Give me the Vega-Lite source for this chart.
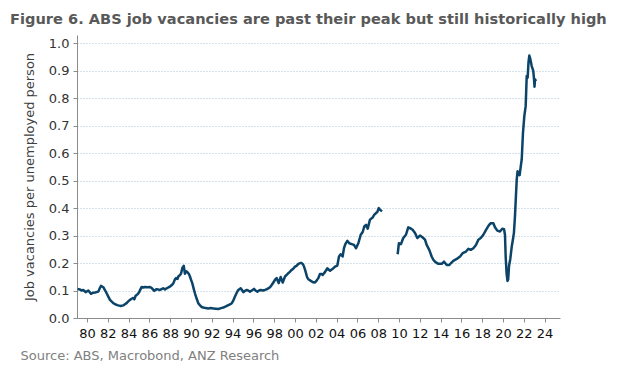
{
  "$schema": "https://vega.github.io/schema/vega-lite/v6.json",
  "width": 483,
  "height": 283,
  "autosize": "none",
  "padding": {"left": 77, "top": 35, "right": 81, "bottom": 58},
  "background": "white",
  "title": {
    "text": "Figure 6. ABS job vacancies are past their peak but still historically high",
    "anchor": "start",
    "frame": "group",
    "dx": -67,
    "offset": 8,
    "fontSize": 14.6,
    "font": "DejaVu Sans",
    "fontWeight": "bold",
    "color": "#595959"
  },
  "config": {
    "view": {"stroke": null},
    "font": "DejaVu Sans"
  },
  "data": {
    "values": [
      {"t":1979.1,"v":0.106,"s":1},{"t":1979.3,"v":0.104,"s":1},{"t":1979.5,"v":0.1,"s":1},{"t":1979.64,"v":0.102,"s":1},{"t":1979.87,"v":0.094,"s":1},
      {"t":1980.13,"v":0.1,"s":1},{"t":1980.38,"v":0.088,"s":1},{"t":1980.6,"v":0.092,"s":1},{"t":1980.77,"v":0.093,"s":1},{"t":1981.09,"v":0.096,"s":1},
      {"t":1981.25,"v":0.11,"s":1},{"t":1981.35,"v":0.117,"s":1},{"t":1981.57,"v":0.112,"s":1},{"t":1981.75,"v":0.1,"s":1},{"t":1981.89,"v":0.09,"s":1},
      {"t":1982.05,"v":0.078,"s":1},{"t":1982.21,"v":0.066,"s":1},{"t":1982.53,"v":0.054,"s":1},{"t":1982.75,"v":0.049,"s":1},{"t":1983.0,"v":0.046,"s":1},
      {"t":1983.25,"v":0.044,"s":1},{"t":1983.49,"v":0.046,"s":1},{"t":1983.65,"v":0.05,"s":1},{"t":1983.81,"v":0.054,"s":1},{"t":1984.0,"v":0.062,"s":1},
      {"t":1984.13,"v":0.066,"s":1},{"t":1984.3,"v":0.07,"s":1},{"t":1984.45,"v":0.073,"s":1},{"t":1984.55,"v":0.068,"s":1},{"t":1984.68,"v":0.081,"s":1},
      {"t":1984.85,"v":0.086,"s":1},{"t":1985.0,"v":0.093,"s":1},{"t":1985.15,"v":0.105,"s":1},{"t":1985.26,"v":0.113,"s":1},{"t":1985.4,"v":0.111,"s":1},
      {"t":1985.58,"v":0.113,"s":1},{"t":1985.8,"v":0.112,"s":1},{"t":1986.06,"v":0.113,"s":1},{"t":1986.25,"v":0.108,"s":1},{"t":1986.47,"v":0.099,"s":1},
      {"t":1986.7,"v":0.105,"s":1},{"t":1987.02,"v":0.102,"s":1},{"t":1987.2,"v":0.106,"s":1},{"t":1987.34,"v":0.108,"s":1},{"t":1987.5,"v":0.104,"s":1},
      {"t":1987.66,"v":0.108,"s":1},{"t":1987.85,"v":0.112,"s":1},{"t":1987.98,"v":0.114,"s":1},{"t":1988.15,"v":0.12,"s":1},{"t":1988.3,"v":0.126,"s":1},
      {"t":1988.45,"v":0.14,"s":1},{"t":1988.56,"v":0.145,"s":1},{"t":1988.7,"v":0.142,"s":1},{"t":1988.78,"v":0.151,"s":1},{"t":1988.9,"v":0.155,"s":1},
      {"t":1989.04,"v":0.161,"s":1},{"t":1989.17,"v":0.182,"s":1},{"t":1989.3,"v":0.19,"s":1},{"t":1989.42,"v":0.161,"s":1},{"t":1989.55,"v":0.17,"s":1},
      {"t":1989.68,"v":0.166,"s":1},{"t":1989.8,"v":0.16,"s":1},{"t":1989.9,"v":0.151,"s":1},{"t":1990.0,"v":0.14,"s":1},{"t":1990.13,"v":0.126,"s":1},
      {"t":1990.25,"v":0.108,"s":1},{"t":1990.38,"v":0.09,"s":1},{"t":1990.55,"v":0.07,"s":1},{"t":1990.7,"v":0.054,"s":1},{"t":1990.87,"v":0.046,"s":1},
      {"t":1991.03,"v":0.04,"s":1},{"t":1991.18,"v":0.038,"s":1},{"t":1991.4,"v":0.036,"s":1},{"t":1991.66,"v":0.035,"s":1},{"t":1991.9,"v":0.036,"s":1},
      {"t":1992.14,"v":0.035,"s":1},{"t":1992.4,"v":0.034,"s":1},{"t":1992.63,"v":0.033,"s":1},{"t":1992.9,"v":0.036,"s":1},{"t":1993.11,"v":0.038,"s":1},
      {"t":1993.35,"v":0.042,"s":1},{"t":1993.59,"v":0.047,"s":1},{"t":1993.75,"v":0.05,"s":1},{"t":1993.91,"v":0.053,"s":1},{"t":1994.05,"v":0.062,"s":1},
      {"t":1994.23,"v":0.078,"s":1},{"t":1994.4,"v":0.092,"s":1},{"t":1994.55,"v":0.102,"s":1},{"t":1994.78,"v":0.108,"s":1},{"t":1994.9,"v":0.102,"s":1},
      {"t":1995.03,"v":0.094,"s":1},{"t":1995.2,"v":0.099,"s":1},{"t":1995.36,"v":0.102,"s":1},{"t":1995.5,"v":0.1,"s":1},{"t":1995.67,"v":0.096,"s":1},
      {"t":1995.85,"v":0.1,"s":1},{"t":1996.06,"v":0.106,"s":1},{"t":1996.2,"v":0.1,"s":1},{"t":1996.38,"v":0.096,"s":1},{"t":1996.55,"v":0.1,"s":1},
      {"t":1996.7,"v":0.102,"s":1},{"t":1996.9,"v":0.1,"s":1},{"t":1997.12,"v":0.102,"s":1},{"t":1997.3,"v":0.105,"s":1},{"t":1997.43,"v":0.108,"s":1},
      {"t":1997.6,"v":0.112,"s":1},{"t":1997.76,"v":0.12,"s":1},{"t":1997.98,"v":0.133,"s":1},{"t":1998.1,"v":0.14,"s":1},{"t":1998.24,"v":0.145,"s":1},
      {"t":1998.43,"v":0.127,"s":1},{"t":1998.62,"v":0.149,"s":1},{"t":1998.82,"v":0.129,"s":1},{"t":1999.04,"v":0.151,"s":1},{"t":1999.2,"v":0.157,"s":1},
      {"t":1999.36,"v":0.163,"s":1},{"t":1999.5,"v":0.168,"s":1},{"t":1999.68,"v":0.175,"s":1},{"t":1999.85,"v":0.18,"s":1},{"t":2000.0,"v":0.187,"s":1},
      {"t":2000.15,"v":0.19,"s":1},{"t":2000.32,"v":0.197,"s":1},{"t":2000.5,"v":0.2,"s":1},{"t":2000.64,"v":0.2,"s":1},{"t":2000.78,"v":0.195,"s":1},
      {"t":2000.87,"v":0.187,"s":1},{"t":2000.97,"v":0.175,"s":1},{"t":2001.06,"v":0.163,"s":1},{"t":2001.15,"v":0.15,"s":1},{"t":2001.28,"v":0.141,"s":1},
      {"t":2001.45,"v":0.137,"s":1},{"t":2001.6,"v":0.133,"s":1},{"t":2001.75,"v":0.13,"s":1},{"t":2001.92,"v":0.129,"s":1},{"t":2002.08,"v":0.136,"s":1},
      {"t":2002.24,"v":0.145,"s":1},{"t":2002.4,"v":0.16,"s":1},{"t":2002.55,"v":0.16,"s":1},{"t":2002.66,"v":0.157,"s":1},{"t":2002.88,"v":0.167,"s":1},
      {"t":2003.1,"v":0.181,"s":1},{"t":2003.37,"v":0.172,"s":1},{"t":2003.63,"v":0.179,"s":1},{"t":2003.85,"v":0.187,"s":1},{"t":2004.07,"v":0.191,"s":1},
      {"t":2004.23,"v":0.224,"s":1},{"t":2004.39,"v":0.232,"s":1},{"t":2004.58,"v":0.224,"s":1},{"t":2004.71,"v":0.254,"s":1},{"t":2004.84,"v":0.269,"s":1},
      {"t":2005.03,"v":0.281,"s":1},{"t":2005.22,"v":0.272,"s":1},{"t":2005.45,"v":0.269,"s":1},{"t":2005.67,"v":0.266,"s":1},{"t":2005.87,"v":0.254,"s":1},
      {"t":2006.09,"v":0.272,"s":1},{"t":2006.32,"v":0.303,"s":1},{"t":2006.51,"v":0.313,"s":1},{"t":2006.66,"v":0.333,"s":1},{"t":2006.83,"v":0.339,"s":1},
      {"t":2006.99,"v":0.325,"s":1},{"t":2007.21,"v":0.358,"s":1},{"t":2007.47,"v":0.366,"s":1},{"t":2007.63,"v":0.376,"s":1},{"t":2007.79,"v":0.382,"s":1},
      {"t":2007.92,"v":0.386,"s":1},{"t":2008.05,"v":0.4,"s":1},{"t":2008.17,"v":0.394,"s":1},{"t":2008.37,"v":0.388,"s":1},
      {"t":2009.87,"v":0.232,"s":2},{"t":2009.99,"v":0.272,"s":2},{"t":2010.19,"v":0.269,"s":2},{"t":2010.41,"v":0.291,"s":2},{"t":2010.67,"v":0.303,"s":2},
      {"t":2010.89,"v":0.33,"s":2},{"t":2011.06,"v":0.327,"s":2},{"t":2011.31,"v":0.321,"s":2},{"t":2011.54,"v":0.309,"s":2},{"t":2011.76,"v":0.291,"s":2},
      {"t":2012.02,"v":0.3,"s":2},{"t":2012.28,"v":0.293,"s":2},{"t":2012.5,"v":0.285,"s":2},{"t":2012.66,"v":0.266,"s":2},{"t":2012.91,"v":0.248,"s":2},
      {"t":2013.14,"v":0.224,"s":2},{"t":2013.3,"v":0.212,"s":2},{"t":2013.46,"v":0.205,"s":2},{"t":2013.78,"v":0.197,"s":2},{"t":2014.11,"v":0.197,"s":2},
      {"t":2014.33,"v":0.205,"s":2},{"t":2014.59,"v":0.193,"s":2},{"t":2014.84,"v":0.193,"s":2},{"t":2015.0,"v":0.2,"s":2},{"t":2015.22,"v":0.208,"s":2},
      {"t":2015.55,"v":0.215,"s":2},{"t":2015.87,"v":0.224,"s":2},{"t":2016.12,"v":0.236,"s":2},{"t":2016.44,"v":0.242,"s":2},{"t":2016.67,"v":0.252,"s":2},
      {"t":2016.9,"v":0.248,"s":2},{"t":2017.15,"v":0.254,"s":2},{"t":2017.4,"v":0.266,"s":2},{"t":2017.63,"v":0.285,"s":2},{"t":2017.86,"v":0.291,"s":2},
      {"t":2018.11,"v":0.303,"s":2},{"t":2018.37,"v":0.321,"s":2},{"t":2018.63,"v":0.337,"s":2},{"t":2018.82,"v":0.345,"s":2},{"t":2019.07,"v":0.345,"s":2},
      {"t":2019.23,"v":0.33,"s":2},{"t":2019.45,"v":0.318,"s":2},{"t":2019.71,"v":0.315,"s":2},{"t":2019.93,"v":0.325,"s":2},{"t":2020.1,"v":0.323,"s":2},
      {"t":2020.19,"v":0.303,"s":2},{"t":2020.26,"v":0.22,"s":2},{"t":2020.35,"v":0.16,"s":2},{"t":2020.43,"v":0.135,"s":2},{"t":2020.5,"v":0.14,"s":2},
      {"t":2020.58,"v":0.19,"s":2},{"t":2020.7,"v":0.215,"s":2},{"t":2020.84,"v":0.26,"s":2},{"t":2020.95,"v":0.285,"s":2},{"t":2021.05,"v":0.31,"s":2},
      {"t":2021.15,"v":0.37,"s":2},{"t":2021.25,"v":0.45,"s":2},{"t":2021.32,"v":0.504,"s":2},{"t":2021.4,"v":0.534,"s":2},{"t":2021.5,"v":0.525,"s":2},
      {"t":2021.6,"v":0.52,"s":2},{"t":2021.7,"v":0.55,"s":2},{"t":2021.8,"v":0.577,"s":2},{"t":2021.92,"v":0.674,"s":2},{"t":2022.05,"v":0.735,"s":2},
      {"t":2022.18,"v":0.771,"s":2},{"t":2022.28,"v":0.881,"s":2},{"t":2022.37,"v":0.875,"s":2},{"t":2022.45,"v":0.93,"s":2},{"t":2022.53,"v":0.955,"s":2},
      {"t":2022.63,"v":0.942,"s":2},{"t":2022.76,"v":0.917,"s":2},{"t":2022.91,"v":0.899,"s":2},{"t":2022.98,"v":0.87,"s":2},{"t":2023.03,"v":0.842,"s":2},
      {"t":2023.08,"v":0.869,"s":2},{"t":2023.17,"v":0.862,"s":2}
    ]
  },
  "mark": {"type": "line", "color": "#0b4468", "strokeWidth": 2.5, "strokeJoin": "round", "strokeCap": "butt"},
  "encoding": {
    "x": {
      "field": "t",
      "type": "quantitative",
      "scale": {"domain": [1979.04, 2025.48], "nice": false, "zero": false},
      "axis": {
        "values": [1980,1982,1984,1986,1988,1990,1992,1994,1996,1998,2000,2002,2004,2006,2008,2010,2012,2014,2016,2018,2020,2022,2024],
        "labelExpr": "slice(toString(datum.value), 2)",
        "grid": false,
        "domainColor": "#8c8c8c",
        "tickColor": "#8c8c8c",
        "tickSize": 4,
        "labelFontSize": 13,
        "labelColor": "#111111",
        "labelPadding": 5,
        "labelFlush": false,
        "labelOverlap": false,
        "title": "Source: ABS, Macrobond, ANZ Research",
        "titleX": -57,
        "titleY": 37,
        "titleAlign": "left",
        "titleBaseline": "middle",
        "titleFontSize": 13,
        "titleFontWeight": "normal",
        "titleColor": "#808080"
      }
    },
    "y": {
      "field": "v",
      "type": "quantitative",
      "scale": {"domain": [0, 1.03], "nice": false},
      "axis": {
        "values": [0,0.1,0.2,0.3,0.4,0.5,0.6,0.7,0.8,0.9,1.0],
        "format": ".1f",
        "grid": true,
        "gridColor": "#a9c4d6",
        "gridDash": [1, 2],
        "gridWidth": 1,
        "domainColor": "#8c8c8c",
        "tickColor": "#8c8c8c",
        "tickSize": 4,
        "labelFontSize": 13,
        "labelColor": "#333333",
        "labelPadding": 4,
        "title": "Job vacancies per unemployed person",
        "titleFontSize": 13,
        "titleFontWeight": "normal",
        "titleColor": "#404040",
        "titlePadding": 12
      }
    },
    "detail": {"field": "s", "type": "nominal"}
  }
}
